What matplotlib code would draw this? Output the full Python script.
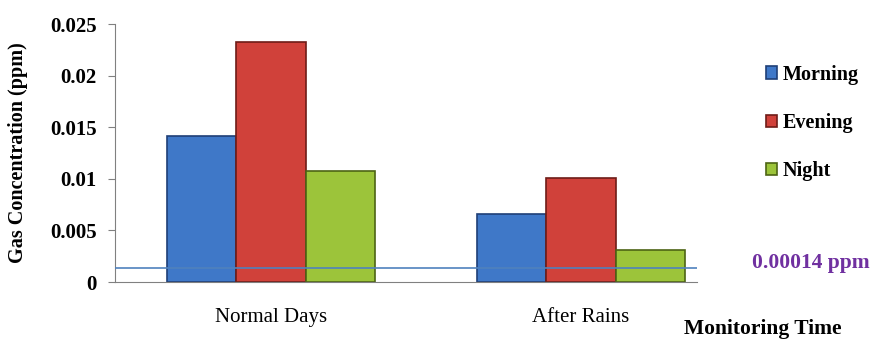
import numpy as np
import matplotlib.pyplot as plt

# data
groups = ['Normal Days', 'After Rains']
times = ['Morning', 'Evening', 'Night']
morning = [0.0141, 0.0066]
evening = [0.0233, 0.0101]
night = [0.0108, 0.0031]
limit_value = 0.00135
limit_label = '0.00014 ppm'
y_ticks = [0, 0.005, 0.01, 0.015, 0.02, 0.025]
y_tick_labels = ['0', '0.005', '0.01', '0.015', '0.02', '0.025']

colors = ['#3f78c8', '#d0413a', '#9cc43a']
edges = ['#1f3f77', '#6e1c18', '#4d6414']

plt.rcParams['font.family'] = ['Liberation Serif', 'DejaVu Serif']

fig = plt.figure(figsize=(8.77, 3.41), dpi=100)
ax = fig.add_axes([0.1311, 0.173, 0.6637, 0.7566])

x = np.arange(len(groups))
w = 0.223
for i, (vals, name) in enumerate(zip([morning, evening, night], times)):
    ax.bar(x + (i - 1) * w, vals, w, color=colors[i], edgecolor=edges[i],
           linewidth=1.2, label=name, zorder=2)

ax.axhline(limit_value, color='#4f81bd', linewidth=1.2, zorder=3)
fig.text(0.857, 0.229, limit_label, color='#7030a0', fontsize=15.5,
         fontweight='bold', va='center')

ax.set_xlim(-0.503, 1.374)
ax.set_ylim(0, 0.025)
ax.set_xticks(x)
ax.set_xticklabels(groups, fontsize=15)
ax.set_yticks(y_ticks)
ax.set_yticklabels(y_tick_labels, fontsize=15, fontweight='bold')
ax.tick_params(axis='x', length=0, pad=19)
ax.tick_params(axis='y', length=5, color='#808080', pad=8)

for s in ['top', 'right']:
    ax.spines[s].set_visible(False)
ax.spines['left'].set_color('#808080')
ax.spines['bottom'].set_color('#808080')

ax.set_ylabel('Gas Concentration (ppm)', fontsize=14.5, fontweight='bold')
ax.yaxis.set_label_coords(-0.15, 0.5)
fig.text(0.959, 0.035, 'Monitoring Time', fontsize=15.5, fontweight='bold',
         ha='right', va='center')

ax.legend(loc='upper left', bbox_to_anchor=(1.087, 0.913), frameon=False,
          prop={'weight': 'bold', 'size': 14.5}, handlelength=0.55,
          handleheight=0.55, handletextpad=0.3, labelspacing=1.4)

fig.savefig('out.png', dpi=100)
